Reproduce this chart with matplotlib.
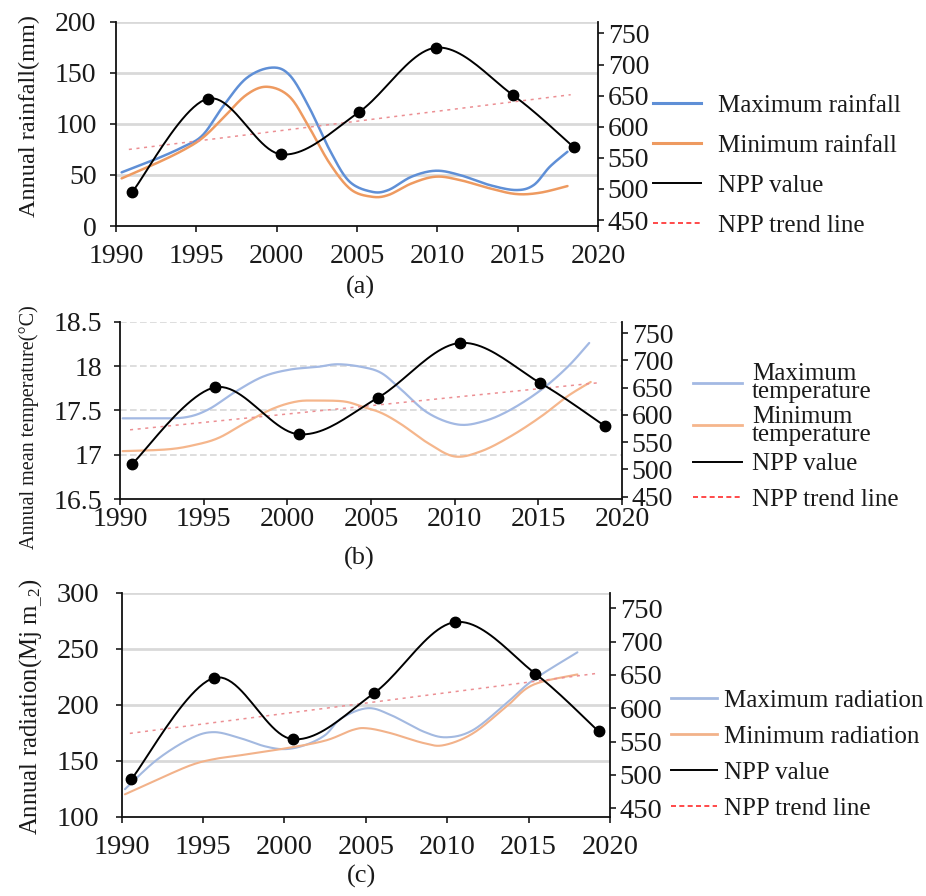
import io
import numpy as np
import matplotlib
matplotlib.use("Agg")
import matplotlib.pyplot as plt
from matplotlib.lines import Line2D
from matplotlib.ticker import FuncFormatter

# ---------------- data ----------------
x_ticks = [1990, 1995, 2000, 2005, 2010, 2015, 2020]

# (a) rainfall
a_max_x = [1990.35, 1992.5, 1994.2, 1995.4, 1996.65, 1998.1, 1999.65, 2000.8, 2002.0, 2003.3,
           2004.5, 2005.9, 2006.95, 2008.4, 2009.9, 2011.4, 2013.25, 2014.9,
           2016.0, 2017.0, 2018.1]
a_max_y = [52.5, 65.6, 77.6, 89.0, 116.8, 144.5, 155.0, 147.8, 116.8, 74.4,
           44.0, 33.6, 35.2, 48.3, 54.1, 49.9, 40.1, 35.2,
           40.1, 58.0, 72.7]
a_min_x = [1990.35, 1992.5, 1994.2, 1995.4, 1996.65, 1998.1, 1999.4, 2000.8, 2002.0, 2003.3,
           2004.6, 2005.9, 2006.95, 2008.4, 2009.9, 2011.4, 2013.25, 2014.9, 2016.4, 2018.1]
a_min_y = [46.6, 61.3, 74.4, 86.4, 105.4, 128.2, 136.3, 126.6, 97.2, 61.3,
           36.0, 28.7, 30.3, 41.7, 48.3, 45.0, 36.9, 31.3, 32.6, 39.1]
a_npp_x = [1991.0, 1995.7, 2000.3, 2005.1, 2009.9, 2014.7, 2018.5]
a_npp_y = [494.6, 645.0, 555.5, 623.0, 727.0, 650.9, 566.8]
a_trend_x = [1990.8, 2018.3]

# (b) temperature
b_max_x = [1990.16, 1991.83, 1993.86, 1995.28, 1996.9, 1998.54, 2000.16, 2001.79, 2003.0,
           2004.44, 2005.63, 2006.83, 2008.41, 2010.2, 2011.79, 2013.37, 2015.16, 2016.75, 2018.04]
b_max_y = [17.41, 17.41, 17.42, 17.51, 17.71, 17.88, 17.96, 17.99, 18.02,
           17.99, 17.92, 17.73, 17.47, 17.34, 17.38, 17.51, 17.73, 17.99, 18.26]
b_min_x = [1990.16, 1992.85, 1994.47, 1995.9, 1997.5, 1999.15, 2000.57, 2001.79, 2003.4,
           2004.5, 2005.63, 2006.83, 2008.41, 2010.0, 2011.6, 2013.37, 2015.16, 2016.75, 2018.13]
b_min_y = [17.04, 17.06, 17.11, 17.19, 17.36, 17.52, 17.60, 17.61, 17.60,
           17.54, 17.47, 17.34, 17.13, 16.98, 17.04, 17.21, 17.43, 17.66, 17.82]
b_npp_x = [1990.7, 1995.7, 2000.7, 2005.4, 2010.3, 2015.1, 2019.0]
b_npp_y = [509.2, 650.6, 564.4, 631.1, 731.8, 658.7, 579.0]
b_trend_x = [1990.6, 2018.7]

# (c) radiation
c_max_x = [1990.2, 1992.17, 1994.24, 1995.68, 1997.33, 1998.78, 2000.02, 2001.26, 2002.5,
           2003.5, 2005.1, 2006.52, 2008.56, 2009.98, 2011.6, 2013.64, 2015.26, 2018.0]
c_max_y = [124.6, 151.0, 170.0, 175.6, 170.0, 163.0, 160.4, 164.0, 173.0,
           188.0, 197.0, 191.0, 176.0, 171.0, 177.6, 201.5, 222.0, 247.0]
c_min_x = [1990.2, 1992.17, 1994.24, 1995.68, 1997.33, 2000.02, 2002.5, 2004.2, 2005.1,
           2006.52, 2008.56, 2009.8, 2011.6, 2013.64, 2015.26, 2018.0]
c_min_y = [120.0, 133.0, 146.0, 151.5, 155.0, 161.0, 168.0, 177.6, 179.0,
           174.7, 165.8, 164.0, 174.7, 198.5, 217.8, 227.2]
c_npp_x = [1990.6, 1995.7, 2000.5, 2005.5, 2010.5, 2015.4, 2019.3]
c_npp_y = [493.8, 645.8, 553.7, 622.7, 729.4, 652.2, 565.3]
c_trend_x = [1990.5, 2019.1]

# ---------------- style ----------------
plt.rcParams["font.family"] = ["Liberation Serif", "DejaVu Serif"]
plt.rcParams["mathtext.fontset"] = "custom"
plt.rcParams["mathtext.rm"] = "Liberation Serif"
plt.rcParams["mathtext.it"] = "Liberation Serif:italic"
plt.rcParams["text.color"] = "#1a1a1a"
plt.rcParams["xtick.color"] = "#1a1a1a"
plt.rcParams["ytick.color"] = "#1a1a1a"

W, H = 926, 896
fig = plt.figure(figsize=(W / 100, H / 100), dpi=100)


def px_rect(l, t, r, b):
    return [l / W, 1 - b / H, (r - l) / W, (b - t) / H]


def smooth(x, y, n=24):
    P = np.column_stack([x, y]).astype(float)
    m = len(P)
    out = [P[0]]
    t = np.linspace(0, 1, n)[1:, None]
    for i in range(m - 1):
        p0 = P[i - 1] if i > 0 else P[i]
        p3 = P[i + 2] if i + 2 < m else P[i + 1]
        c1 = P[i] + (P[i + 1] - p0) / 6.0
        c2 = P[i + 1] - (p3 - P[i]) / 6.0
        seg = ((1 - t) ** 3) * P[i] + 3 * ((1 - t) ** 2) * t * c1 + 3 * (1 - t) * t ** 2 * c2 + t ** 3 * P[i + 1]
        out.extend(seg)
    out = np.array(out)
    return out[:, 0], out[:, 1]


def fmt_g(v, pos):
    return "%g" % v


def panel(rect, ylim, yticks, rlim, grid_style, mx, my, nx, ny, px_, py_, tx,
          cmax, cmin, lw_c, xpad, ypad, fs):
    ax = fig.add_axes(rect)
    ax.set_xlim(1990, 2020)
    ax.set_ylim(*ylim)
    ax.set_xticks(x_ticks)
    ax.set_yticks(yticks)
    ax.yaxis.set_major_formatter(FuncFormatter(fmt_g))
    for v in yticks[1:]:
        ax.axhline(v, **grid_style, zorder=0)
    sx, sy = smooth(mx, my)
    ax.plot(sx, sy, color=cmax, lw=lw_c, zorder=2, solid_capstyle="round")
    sx, sy = smooth(nx, ny)
    ax.plot(sx, sy, color=cmin, lw=lw_c, zorder=2, solid_capstyle="round")
    for s in ["top", "right"]:
        ax.spines[s].set_visible(False)
    for s in ["left", "bottom"]:
        ax.spines[s].set_linewidth(1.3)
        ax.spines[s].set_color("#111111")
    ax.tick_params(axis="x", direction="out", length=4, width=1.2, labelsize=fs, pad=xpad)
    ax.tick_params(axis="y", direction="out", length=4, width=1.2, labelsize=fs, pad=ypad)

    ax2 = ax.twinx()
    ax2.set_ylim(*rlim)
    ax2.set_yticks([450, 500, 550, 600, 650, 700, 750])
    for s in ["top", "left", "bottom"]:
        ax2.spines[s].set_visible(False)
    ax2.spines["right"].set_linewidth(1.3)
    ax2.spines["right"].set_color("#111111")
    ax2.tick_params(axis="y", direction="out", length=4, width=1.2, labelsize=fs, pad=3)
    # NPP trend line (linear fit of NPP values)
    k, b0 = np.polyfit(px_, py_, 1)
    tx_arr = np.array(tx)
    ax2.plot(tx_arr, k * tx_arr + b0, color="#ec8f93", lw=1.1, ls=(0, (2.0, 3.0)), zorder=3)
    sx, sy = smooth(px_, py_)
    ax2.plot(sx, sy, color="black", lw=1.4, zorder=4)
    ax2.plot(px_, py_, "o", color="black", ms=7.5, zorder=5)
    return ax, ax2


# ---- (a)
panel(px_rect(116, 21.7, 598, 226), (0, 200), [0, 50, 100, 150, 200], (440.4, 768.8),
      dict(color="#d9d9d9", lw=2.0),
      a_max_x, a_max_y, a_min_x, a_min_y, a_npp_x, a_npp_y, a_trend_x,
      "#5f8fd6", "#ee9a60", 1.8, 9, 10, 20)

# ---- (b)
panel(px_rect(120, 321.7, 622, 499), (16.5, 18.5), [16.5, 17, 17.5, 18, 18.5], (445.8, 770.8),
      dict(color="#d8d8d8", lw=1.2, ls=(0, (4, 2))),
      b_max_x, b_max_y, b_min_x, b_min_y, b_npp_x, b_npp_y, b_trend_x,
      "#a3b9e3", "#f5b68c", 1.6, 1.5, 9, 20)

# ---- (c)
panel(px_rect(121.7, 593, 610, 816.7), (100, 300), [100, 150, 200, 250, 300], (437.4, 773.0),
      dict(color="#d9d9d9", lw=2.0),
      c_max_x, c_max_y, c_min_x, c_min_y, c_npp_x, c_npp_y, c_trend_x,
      "#a3b9e0", "#f2b28a", 1.5, 9, 12, 20.5)

# ---------------- labels ----------------
fig.text(29 / W, 1 - 116 / H, "Annual rainfall(mm)", rotation=90, ha="center", va="center", fontsize=17.5)
fig.text(29 / W, 1 - 427 / H, "Annual mean temperature(°C)", rotation=90, ha="center", va="center", fontsize=14.5)

rad_label = r"Annual radiation(Mj m$_{\_2}$)"
try:
    from matplotlib import mathtext
    mathtext.math_to_image(r"$_{\_2}$", io.BytesIO(), dpi=72, format="png")
except Exception:
    rad_label = "Annual radiation(Mj m_2)"
fig.text(31 / W, 1 - 707 / H, rad_label, rotation=90, ha="center", va="center", fontsize=17.8)

fig.text(360 / W, 1 - 287 / H, "(a)", ha="center", va="center", fontsize=19)
fig.text(359 / W, 1 - 558 / H, "(b)", ha="center", va="center", fontsize=19)
fig.text(361 / W, 1 - 876 / H, "(c)", ha="center", va="center", fontsize=19)

# ---------------- legends ----------------
leg_a_labels = ["Maximum rainfall", "Minimum rainfall", "NPP value", "NPP trend line"]
leg_b_labels = ["Maximum\ntemperature", "Minimum\ntemperature", "NPP value", "NPP trend line"]
leg_c_labels = ["Maximum radiation", "Minimum radiation", "NPP value", "NPP trend line"]


def handles(cmax, cmin, lw):
    return [Line2D([], [], color=cmax, lw=lw),
            Line2D([], [], color=cmin, lw=lw),
            Line2D([], [], color="black", lw=1.4),
            Line2D([], [], color="#ff2a2a", lw=1.2, ls=(0, (3, 2)))]


ha_ = handles("#5f8fd6", "#ee9a60", 2.2)
la = fig.legend(ha_, leg_a_labels, loc="upper left",
                bbox_to_anchor=(653 / W, 1 - 94 / H), bbox_transform=fig.transFigure,
                frameon=False, fontsize=18, handlelength=1.9, handletextpad=0.68,
                labelspacing=0.7, borderpad=0, borderaxespad=0)

hb = handles("#a3b9e3", "#f5b68c", 2.0)
lb1 = fig.legend(hb[:2], leg_b_labels[:2], loc="upper left",
                 bbox_to_anchor=(693 / W, 1 - 363 / H), bbox_transform=fig.transFigure,
                 frameon=False, fontsize=18, handlelength=1.96, handletextpad=0.4,
                 labelspacing=0.12, borderpad=0, borderaxespad=0)
for t in lb1.get_texts():
    t.set_linespacing(0.75)
lb2 = fig.legend(hb[2:], leg_b_labels[2:], loc="upper left",
                 bbox_to_anchor=(693 / W, 1 - 453 / H), bbox_transform=fig.transFigure,
                 frameon=False, fontsize=18, handlelength=1.96, handletextpad=0.4,
                 labelspacing=0.5, borderpad=0, borderaxespad=0)

lc = fig.legend(handles("#a3b9e0", "#f2b28a", 2.0), leg_c_labels, loc="upper left",
                bbox_to_anchor=(671 / W, 1 - 689 / H), bbox_transform=fig.transFigure,
                frameon=False, fontsize=18, handlelength=1.84, handletextpad=0.3,
                labelspacing=0.54, borderpad=0, borderaxespad=0)

fig.savefig("out.png", dpi=100)
